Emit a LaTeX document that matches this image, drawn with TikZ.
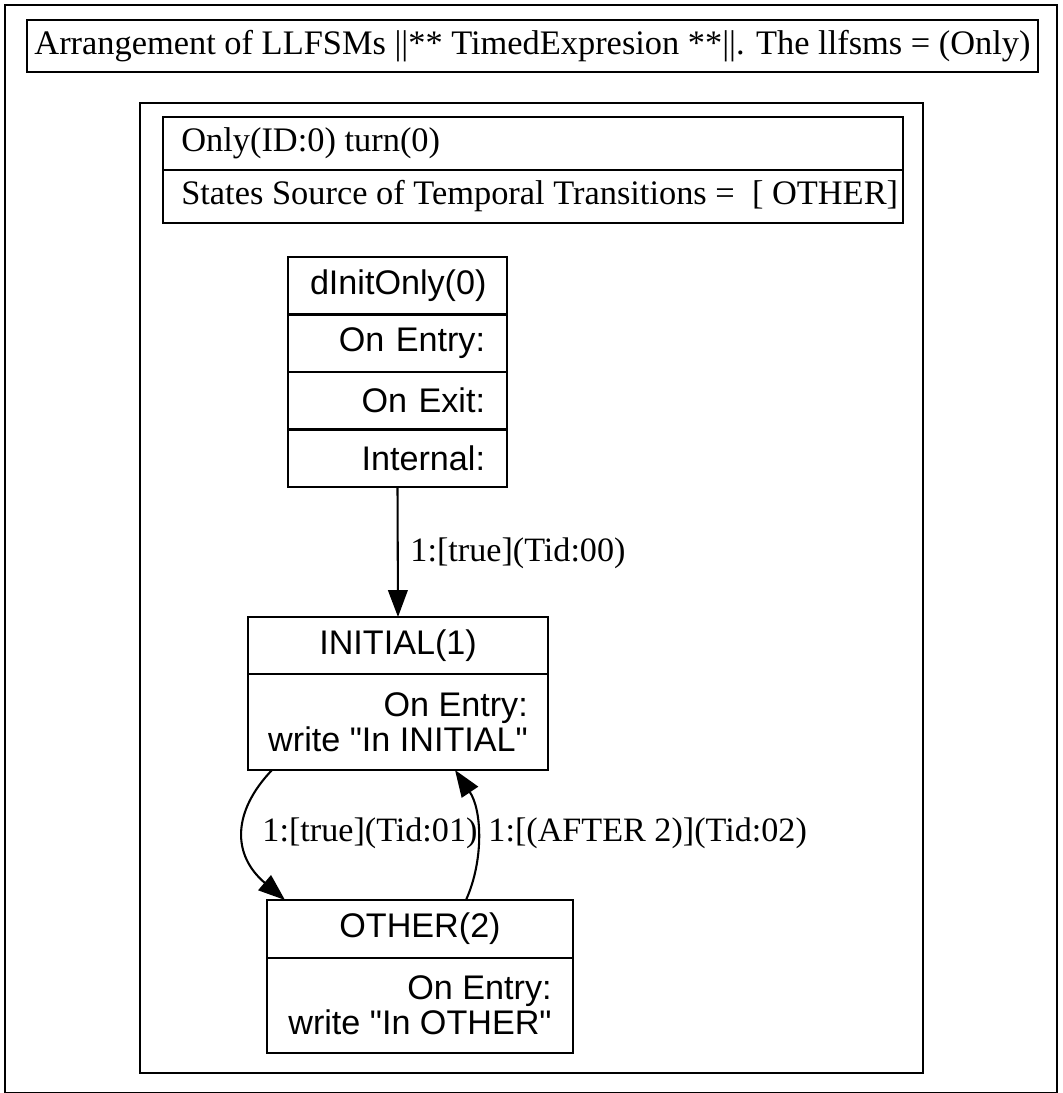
\documentclass[tikz,border=0pt]{standalone}
\usepackage{fontspec}
\setmainfont{Liberation Serif}
\newfontfamily\arialf{Liberation Sans}
\usetikzlibrary{arrows.meta}

\tikzset{
  frame/.style={draw, line width=0.85pt, inner sep=0pt, outer sep=0pt, anchor=north west},
  serif/.style={font=\fontsize{14}{14.35}\selectfont},
  serifwide/.style={font=\fontsize{14.1}{14.35}\selectfont},
  sans/.style={font=\arialf\fontsize{14}{14.35}\selectfont},
  hdrcell/.style={frame, minimum width=303.4pt, minimum height=21.73pt},
  hdrtext/.style={serifwide, inner sep=0pt, anchor=west},
  lbl/.style={serif, inner sep=0pt, anchor=west},
  edge/.style={line width=0.85pt, -{Triangle[length=11pt,width=8pt]}},
}

\begin{document}
\begin{tikzpicture}[x=0.41pt, y=-0.41pt]
\useasboundingbox (0,0) rectangle (1062,1093);

% outer cluster and its title
\node[frame, minimum width=431.32pt, minimum height=446.08pt] (outer) at (5,5) {};
\node[frame, serifwide, minimum width=414.51pt, minimum height=21.32pt] (title) at (27,20)
  {Arrangement of LLFSMs ||** TimedExpresion **||. The llfsms = (Only)};

% inner cluster for machine Only, with its two-field header
\node[frame, minimum width=321.03pt, minimum height=397.7pt] (inner) at (140,103) {};
\node[hdrcell] (hdra) at (163,117) {};
\node[hdrcell] (hdrb) at (hdra.south west) {};
\node[hdrtext] (hdratext) at ([xshift=7.3pt]hdra.west) {Only(ID:0) turn(0)};
\node[hdrtext] (hdrbtext) at ([xshift=7.3pt]hdrb.west) {States Source of Temporal Transitions = \ [ OTHER]};

% state dInitOnly(0)
\tikzset{
  dcell/.style={frame, sans, minimum width=89.79pt, minimum height=23.575pt,
                text width=71.75pt, inner xsep=9.02pt},
}
\node[dcell, align=center] (d0) at (288,257) {dInitOnly(0)};
\node[dcell, align=right] (d1) at (d0.south west) {On Entry:};
\node[dcell, align=right] (d2) at (d1.south west) {On Exit:};
\node[dcell, align=right] (d3) at (d2.south west) {Internal:};

% state INITIAL(1)
\node[frame, sans, minimum width=123pt, minimum height=23.37pt] (ia) at (248,617) {INITIAL(1)};
\node[frame, sans, minimum width=123pt, minimum height=39.36pt, align=right] (ib)
  at (ia.south west) {On Entry:\\write "In INITIAL"};

% state OTHER(2)
\node[frame, sans, minimum width=125.46pt, minimum height=23.78pt] (oa) at (267,900) {OTHER(2)};
\node[frame, sans, minimum width=125.46pt, minimum height=38.95pt, align=right] (ob)
  at (oa.south west) {On Entry:\\write "In OTHER"};

% transitions
\draw[edge] (d3.south) -- (ia.north);
\node[lbl] (l0) at (410,553) {1:[true](Tid:00)};

\draw[edge] ([xshift=9.84pt]ib.south west) .. controls (232,812) and (232,855)
  .. ([xshift=7.38pt]oa.north west);
\node[lbl] (l1) at (262,833) {1:[true](Tid:01)};

\draw[edge] ([xshift=81.59pt]oa.north west) .. controls (484,860) and (482,810)
  .. ([xshift=84.87pt]ib.south west);
\node[lbl] (l2) at (488,833) {1:[(AFTER 2)](Tid:02)};
\end{tikzpicture}
\end{document}
